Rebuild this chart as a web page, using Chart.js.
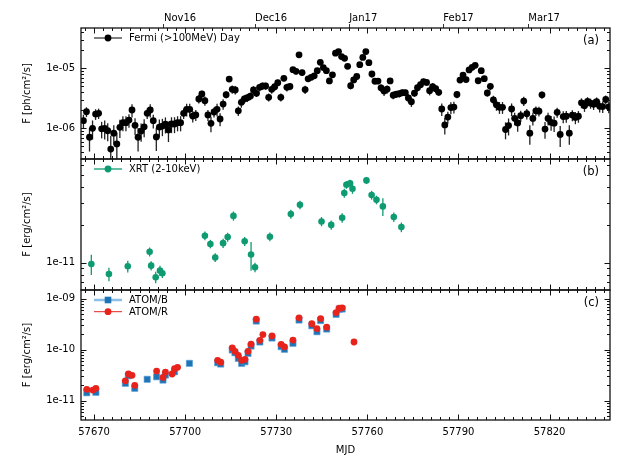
<!DOCTYPE html>
<html>
<head>
<meta charset="utf-8">
<script src="https://cdn.jsdelivr.net/npm/chart.js@4.4.1/dist/chart.umd.min.js"></script>
<style>
  html, body { margin: 0; padding: 0; background: #fff; }
  #wrap { position: relative; width: 623px; height: 467px; }
  #wrap canvas { position: absolute; left: 0; top: 0; }
</style>
</head>
<body>
<div id="wrap">
  <canvas id="fermiCanvas" width="623" height="467"></canvas>
  <canvas id="xrtCanvas" width="623" height="467"></canvas>
  <canvas id="atomCanvas" width="623" height="467"></canvas>
</div>
<script>
// Fermi (>100MeV) daily fluxes, in 1e-6 ph/cm2/s
const fermiMjd = [
  57666.5, 57667.5, 57668.5, 57669.5, 57670.5, 57671.5, 57672.5, 57673.5, 57674.5, 57675.5,
  57676.5, 57677.5, 57678.5, 57679.5, 57680.5, 57681.5, 57682.5, 57683.5, 57684.5, 57685.5,
  57686.5, 57687.5, 57688.5, 57689.5, 57690.5, 57691.5, 57692.5, 57693.5, 57694.5, 57695.5,
  57696.5, 57697.5, 57698.5, 57699.5, 57700.5, 57701.5, 57702.5, 57703.5, 57704.5, 57705.5,
  57706.5, 57707.5, 57708.5, 57709.5, 57710.5, 57711.5, 57712.5, 57713.5, 57714.5, 57715.5,
  57716.5, 57717.5, 57718.5, 57719.5, 57720.5, 57721.5, 57722.5, 57723.5, 57724.5, 57725.5,
  57726.5, 57727.5, 57728.5, 57729.5, 57730.5, 57731.5, 57732.5, 57733.5, 57734.5, 57735.5,
  57736.5, 57737.5, 57738.5, 57739.5, 57740.5, 57741.5, 57742.5, 57743.5, 57744.5, 57745.5,
  57746.5, 57747.5, 57748.5, 57749.5, 57750.5, 57751.5, 57752.5, 57753.5, 57754.5, 57755.5,
  57756.5, 57757.5, 57758.5, 57759.5, 57760.5, 57761.5, 57762.5, 57763.5, 57764.5, 57765.5,
  57766.5, 57767.5, 57768.5, 57769.5, 57770.5, 57771.5, 57772.5, 57773.5, 57774.5, 57775.5,
  57776.5, 57777.5, 57778.5, 57779.5, 57780.5, 57781.5, 57782.5, 57783.5, 57784.5, 57785.5,
  57786.5, 57787.5, 57788.5, 57789.5, 57790.5, 57791.5, 57792.5, 57793.5, 57794.5, 57795.5,
  57796.5, 57797.5, 57798.5, 57799.5, 57800.5, 57801.5, 57802.5, 57803.5, 57804.5, 57805.5,
  57806.5, 57807.5, 57808.5, 57809.5, 57810.5, 57811.5, 57812.5, 57813.5, 57814.5, 57815.5,
  57816.5, 57817.5, 57818.5, 57819.5, 57820.5, 57821.5, 57822.5, 57823.5, 57824.5, 57825.5,
  57826.5, 57827.5, 57828.5, 57829.5, 57830.5, 57831.5, 57832.5, 57833.5, 57834.5, 57835.5,
  57836.5, 57837.5, 57838.5, 57839.5
];
const fermiFlux = [
  1.34, 1.89, 0.71, 1.00, 1.73, 1.78, 0.98, 1.00, 0.91, 0.45,
  0.83, 0.55, 1.04, 1.24, 1.24, 1.37, 2.02, 1.12, 0.71, 0.90,
  1.06, 1.78, 2.02, 1.34, 0.72, 1.05, 1.09, 1.17, 0.94, 1.18,
  1.18, 1.24, 1.24, 1.78, 2.07, 2.07, 1.60, 1.67, 3.08, 3.73,
  2.88, 1.67, 1.21, 1.87, 2.07, 1.43, 2.54, 3.63, 6.63, 4.47,
  4.35, 1.96, 2.71, 3.08, 3.24, 3.45, 4.35, 3.83, 4.82, 5.07,
  5.07, 3.29, 4.47, 4.93, 5.75, 3.29, 6.81, 4.82, 5.00, 9.50,
  8.90, 16.8, 8.50, 4.43, 6.68, 7.08, 7.50, 9.12, 12.6, 10.3,
  9.12, 6.17, 7.79, 17.9, 19.0, 15.7, 14.7, 10.8, 5.13, 6.40,
  7.30, 11.5, 15.2, 19.0, 12.4, 8.04, 6.10, 6.14, 4.73, 4.17,
  4.48, 6.17, 3.56, 3.70, 3.77, 3.92, 3.92, 3.20, 2.77, 3.85,
  4.75, 5.34, 6.00, 5.82, 4.24, 4.97, 4.57, 3.98, 2.10, 1.14,
  1.54, 2.22, 2.26, 3.66, 6.38, 7.73, 6.50, 9.40, 10.4, 11.2,
  6.21, 9.12, 6.71, 3.88, 5.01, 2.99, 2.46, 2.24, 2.24, 0.955,
  1.11, 2.10, 1.47, 1.23, 1.62, 2.85, 1.75, 0.83, 1.46, 1.96,
  1.93, 3.61, 0.97, 1.46, 1.26, 1.22, 1.85, 0.79, 1.57, 1.59,
  0.83, 1.66, 1.52, 1.59, 2.66, 2.38, 2.80, 2.62, 2.52, 2.77,
  2.33, 2.30, 3.02, 2.28
];
const fermiErr = [
  0.35, 0.35, 0.30, 0.35, 0.35, 0.35, 0.30, 0.35, 0.30, 0.30,
  0.30, 0.30, 0.35, 0.35, 0.35, 0.35, 0.50, 0.35, 0.30, 0.30,
  0.35, 0.35, 0.50, 0.35, 0.30, 0.35, 0.35, 0.35, 0.35, 0.35,
  0.35, 0.35, 0.35, 0.35, 0.50, 0.50, 0.35, 0.35, 0.50, 0.50,
  0.50, 0.35, 0.35, 0.35, 0.50, 0.35, 0.50, 0.50, 0.70, 0.70,
  0.70, 0.35, 0.50, 0.50, 0.50, 0.50, 0.70, 0.50, 0.70, 0.70,
  0.70, 0.50, 0.70, 0.70, 0.70, 0.50, 0.70, 0.70, 0.70, 1.00,
  1.00, 1.00, 1.00, 0.70, 0.70, 0.70, 0.70, 1.00, 1.00, 1.00,
  1.00, 0.70, 0.70, 1.00, 1.00, 1.00, 1.00, 1.00, 0.70, 0.70,
  0.70, 1.00, 1.00, 1.00, 1.00, 1.00, 0.70, 0.70, 0.70, 0.70,
  0.70, 0.70, 0.50, 0.50, 0.50, 0.50, 0.50, 0.50, 0.50, 0.50,
  0.70, 0.70, 0.70, 0.70, 0.70, 0.70, 0.70, 0.50, 0.50, 0.35,
  0.35, 0.50, 0.50, 0.50, 0.70, 0.70, 0.70, 1.00, 1.00, 1.00,
  0.70, 1.00, 0.70, 0.50, 0.70, 0.50, 0.50, 0.50, 0.50, 0.30,
  0.35, 0.50, 0.35, 0.35, 0.35, 0.50, 0.35, 0.30, 0.35, 0.35,
  0.35, 0.50, 0.30, 0.35, 0.35, 0.35, 0.35, 0.30, 0.35, 0.35,
  0.30, 0.35, 0.35, 0.35, 0.50, 0.50, 0.50, 0.50, 0.50, 0.50,
  0.50, 0.50, 0.50, 0.50
];

// XRT (2-10keV), in 1e-11 erg/cm2/s
const xrtMjd = [
  57669.1, 57674.9, 57681.1, 57688.3, 57688.8, 57690.3, 57691.7, 57692.5, 57706.5, 57708.3,
  57709.9, 57712.5, 57714.0, 57715.9, 57719.6, 57721.7, 57723.0, 57727.9, 57734.8, 57737.8,
  57744.9, 57748.1, 57751.7, 57752.4, 57753.1, 57754.3, 57755.1, 57759.7, 57761.4, 57763.0,
  57765.1, 57768.7, 57771.2
];
const xrtFlux = [
  0.976, 0.812, 0.936, 1.22, 0.946, 0.764, 0.863, 0.823, 1.64, 1.41,
  1.10, 1.43, 1.60, 2.36, 1.48, 1.16, 0.919, 1.61, 2.44, 2.89,
  2.13, 2.00, 2.28, 3.59, 4.18, 4.29, 3.89, 4.53, 3.46, 3.17,
  2.81, 2.31, 1.92
];
const xrtErr = [
  0.18, 0.10, 0.10, 0.10, 0.08, 0.08, 0.08, 0.07, 0.13, 0.11,
  0.09, 0.12, 0.13, 0.20, 0.12, 0.30, 0.08, 0.13, 0.20, 0.22,
  0.18, 0.17, 0.20, 0.30, 0.30, 0.30, 0.35, 0.30, 0.28, 0.25,
  0.45, 0.20, 0.17
];

// ATOM B and R band, in 1e-10 erg/cm2/s
const atomBMjd = [
  57667.6, 57670.6, 57680.3, 57681.3, 57683.4, 57687.5, 57690.6, 57692.7, 57693.5, 57696.5,
  57701.4, 57710.7, 57711.7, 57715.5, 57716.4, 57717.5, 57718.6, 57719.7, 57720.7, 57721.7,
  57723.4, 57724.6, 57728.6, 57731.6, 57732.7, 57735.5, 57737.5, 57741.7, 57743.4, 57744.6,
  57746.6, 57749.7, 57750.7, 57751.7
];
const atomBFlux = [
  0.143, 0.146, 0.219, 0.309, 0.175, 0.263, 0.295, 0.254, 0.319, 0.370,
  0.541, 0.556, 0.524, 0.99, 0.873, 0.678, 0.54, 0.581, 0.849, 1.18,
  3.66, 1.42, 1.70, 1.15, 1.02, 1.34, 3.83, 2.96, 2.26, 3.74,
  2.55, 4.95, 6.21, 6.30
];
const atomRMjd = [
  57667.6, 57669.6, 57670.6, 57680.3, 57681.3, 57682.5, 57683.4, 57690.6, 57692.7, 57693.5,
  57695.7, 57696.5, 57697.5, 57710.7, 57711.7, 57715.5, 57716.4, 57717.5, 57718.6, 57719.7,
  57720.7, 57721.7, 57723.4, 57724.6, 57725.6, 57728.6, 57731.6, 57732.7, 57735.5, 57737.5,
  57741.7, 57743.4, 57744.6, 57746.6, 57749.7, 57750.7, 57751.7, 57755.6
];
const atomRFlux = [
  0.167, 0.162, 0.175, 0.246, 0.334, 0.315, 0.200, 0.382, 0.287, 0.365,
  0.334, 0.424, 0.452, 0.619, 0.570, 1.09, 0.93, 0.776, 0.619, 0.648,
  0.93, 1.29, 3.98, 1.53, 1.99, 1.87, 1.28, 1.14, 1.55, 4.23,
  3.24, 2.61, 4.10, 2.77, 5.37, 6.53, 6.67, 1.42
];

// axis labels
const xTickValues = [57670, 57700, 57730, 57760, 57790, 57820];
const monthMjd = [57693, 57723, 57754, 57785, 57813];
const monthLabels = ['Nov16', 'Dec16', 'Jan17', 'Feb17', 'Mar17'];

const X_MIN = 57665.7, X_MAX = 57839.9;
const FONT = 'DejaVu Sans';

Chart.defaults.font.family = FONT;
Chart.defaults.font.size = 10;
Chart.defaults.color = '#000';

// 1e-05 style labels (like matplotlib)
function sciLabel(v) {
  const e = Math.round(Math.log10(v));
  return '1e' + (e < 0 ? '-' : '+') + String(Math.abs(e)).padStart(2, '0');
}

// only full decades get a label
function decadeTicks(scale) {
  const ticks = [];
  for (let e = Math.ceil(Math.log10(scale.min) - 1e-9); e <= Math.floor(Math.log10(scale.max) + 1e-9); e++) {
    ticks.push({ value: Math.pow(10, e) });
  }
  scale.ticks = ticks;
}

function toPoints(xs, ys, unit) {
  return xs.map((x, i) => ({ x: x, y: ys[i] * unit }));
}

// vertical error bars, drawn under the markers
const errorBars = {
  id: 'errorBars',
  beforeDatasetsDraw(chart) {
    const { ctx, chartArea: a } = chart;
    ctx.save();
    ctx.beginPath();
    ctx.rect(a.left, a.top, a.right - a.left, a.bottom - a.top);
    ctx.clip();
    chart.data.datasets.forEach((ds, i) => {
      if (!ds.errors) return;
      const meta = chart.getDatasetMeta(i);
      const ys = chart.scales[meta.yAxisID];
      ctx.strokeStyle = ds.errorColor;
      ctx.lineWidth = 1.3;
      meta.data.forEach((pt, j) => {
        const v = ds.data[j].y;
        const e = ds.errors[j] * ds.errorUnit;
        const lo = Math.max(v - e, ys.min * 0.1);
        ctx.beginPath();
        ctx.moveTo(pt.x, ys.getPixelForValue(v + e));
        ctx.lineTo(pt.x, ys.getPixelForValue(lo));
        ctx.stroke();
      });
    });
    ctx.restore();
  }
};

// frame, inward ticks on all four sides, legend and panel letter
const panelDecor = {
  id: 'panelDecor',
  afterDraw(chart, args, opts) {
    const { ctx, chartArea: a } = chart;
    const xs = chart.scales.x, ys = chart.scales.y;
    ctx.save();
    ctx.strokeStyle = '#111';
    ctx.lineWidth = 1;

    // x ticks: major every 30 days, minor every 3
    for (let d = 57670 - 3; d >= X_MIN; d -= 3) drawX(d);
    for (let d = 57670; d <= X_MAX; d += 3) drawX(d);
    function drawX(d) {
      const len = (d - 57670) % 30 === 0 ? 5.5 : 3;
      const px = Math.round(xs.getPixelForValue(d)) + 0.5;
      ctx.beginPath();
      ctx.moveTo(px, a.top); ctx.lineTo(px, a.top + len);
      ctx.moveTo(px, a.bottom); ctx.lineTo(px, a.bottom - len);
      ctx.stroke();
    }

    // y ticks: decades and 2..9 in between
    for (let e = Math.floor(Math.log10(ys.min)); e <= Math.floor(Math.log10(ys.max)); e++) {
      for (let m = 1; m <= 9; m++) {
        const v = m * Math.pow(10, e);
        if (v < ys.min || v > ys.max) continue;
        const len = m === 1 ? 5.5 : 3;
        const py = Math.round(ys.getPixelForValue(v)) + 0.5;
        ctx.beginPath();
        ctx.moveTo(a.left, py); ctx.lineTo(a.left + len, py);
        ctx.moveTo(a.right, py); ctx.lineTo(a.right - len, py);
        ctx.stroke();
      }
    }

    ctx.lineWidth = 1.3;
    ctx.strokeRect(a.left, a.top, a.right - a.left, a.bottom - a.top);

    // legend in the top-left corner
    ctx.font = '10px ' + FONT;
    ctx.textBaseline = 'middle';
    ctx.textAlign = 'left';
    opts.legend.forEach((item, k) => {
      const y = a.top + 10 + k * 11.7;
      ctx.strokeStyle = item.lineColor;
      ctx.lineWidth = item.lineWidth;
      ctx.beginPath();
      ctx.moveTo(a.left + 13, y); ctx.lineTo(a.left + 41, y);
      ctx.stroke();
      ctx.fillStyle = item.color;
      ctx.beginPath();
      if (item.style === 'rect') {
        ctx.rect(a.left + 27 - 3.3, y - 3.3, 6.6, 6.6);
      } else {
        ctx.arc(a.left + 27, y, 3.4, 0, Math.PI * 2);
      }
      ctx.fill();
      ctx.fillStyle = '#000';
      ctx.fillText(item.text, a.left + 48, y + 0.5);
    });

    ctx.font = '11.5px ' + FONT;
    ctx.textAlign = 'right';
    ctx.fillText(opts.label, a.right - 11, a.top + 13.5);
    ctx.restore();
  }
};

function yScale(min, max, title) {
  return {
    type: 'logarithmic',
    position: 'left',
    min: min,
    max: max,
    bounds: 'data',
    afterFit: s => { s.width = 81; },
    afterBuildTicks: decadeTicks,
    ticks: { callback: v => sciLabel(v), padding: 6, autoSkip: false },
    grid: { display: false, drawTicks: false },
    border: { display: false },
    title: { display: true, text: title, font: { size: 10 }, padding: { top: 21.5, bottom: 0 } }
  };
}

function hiddenX() {
  return { type: 'linear', min: X_MIN, max: X_MAX, display: false };
}

function makePanel(canvasId, padTop, padBottom, datasets, scales, decor) {
  return new Chart(document.getElementById(canvasId), {
    type: 'scatter',
    data: { datasets: datasets },
    options: {
      responsive: false,
      animation: false,
      devicePixelRatio: 1,
      layout: { padding: { left: 0, right: 13, top: padTop, bottom: padBottom } },
      plugins: { legend: { display: false }, tooltip: { enabled: false }, panelDecor: decor },
      scales: scales
    },
    plugins: [errorBars, panelDecor]
  });
}

// (a) Fermi
makePanel('fermiCanvas', 0, 308, [{
  data: toPoints(fermiMjd, fermiFlux, 1e-6),
  errors: fermiErr, errorUnit: 1e-6, errorColor: '#222',
  backgroundColor: '#000', borderColor: '#000',
  pointRadius: 3.4, pointBorderWidth: 0
}], {
  x: hiddenX(),
  xTop: {
    type: 'linear', position: 'top', min: X_MIN, max: X_MAX,
    afterFit: s => { s.height = 28; },
    afterBuildTicks: s => { s.ticks = monthMjd.map(v => ({ value: v })); },
    ticks: {
      callback: v => monthLabels[monthMjd.indexOf(v)],
      align: 'start', padding: 0, maxRotation: 0, autoSkip: false
    },
    grid: { display: true, drawOnChartArea: false, drawTicks: true, tickLength: 4, color: '#000', lineWidth: 0.8 },
    border: { display: false }
  },
  y: yScale(3.08e-7, 4.7e-5, 'F [ph/cm²/s]')
}, {
  label: '(a)',
  legend: [{ text: 'Fermi (>100MeV) Day', color: '#000', lineColor: '#000', lineWidth: 1 }]
});

// (b) XRT
makePanel('xrtCanvas', 159, 177, [{
  data: toPoints(xrtMjd, xrtFlux, 1e-11),
  errors: xrtErr, errorUnit: 1e-11, errorColor: '#0f9b72',
  backgroundColor: '#0f9b72', borderColor: '#0f9b72',
  pointRadius: 3.3, pointBorderWidth: 0
}], {
  x: hiddenX(),
  y: yScale(6.05e-12, 6.71e-11, 'F [erg/cm²/s]')
}, {
  label: '(b)',
  legend: [{ text: 'XRT (2-10keV)', color: '#0f9b72', lineColor: '#0f9b72', lineWidth: 1.3 }]
});

// (c) ATOM
makePanel('atomCanvas', 290, 0, [
  {
    data: toPoints(atomBMjd, atomBFlux, 1e-10),
    order: 1,
    pointStyle: 'rect',
    backgroundColor: '#1f74b6', borderColor: 'rgba(90,160,215,0.6)',
    pointRadius: 4.4, pointBorderWidth: 1
  },
  {
    data: toPoints(atomRMjd, atomRFlux, 1e-10),
    order: 0,
    backgroundColor: '#e8231c', borderColor: '#e8231c',
    pointRadius: 3.4, pointBorderWidth: 0
  }
], {
  x: {
    type: 'linear', position: 'bottom', min: X_MIN, max: X_MAX,
    afterFit: s => { s.height = 47; },
    afterBuildTicks: s => { s.ticks = xTickValues.map(v => ({ value: v })); },
    ticks: { callback: v => String(v), padding: 6, maxRotation: 0, autoSkip: false },
    grid: { display: false, drawTicks: false },
    border: { display: false },
    title: { display: true, text: 'MJD', font: { size: 10 }, padding: { top: 0, bottom: 11 } }
  },
  y: yScale(4.18e-12, 1.49e-9, 'F [erg/cm²/s]')
}, {
  label: '(c)',
  legend: [
    { text: 'ATOM/B', color: '#1f74b6', lineColor: 'rgba(110,175,225,0.8)', lineWidth: 2.5, style: 'rect' },
    { text: 'ATOM/R', color: '#e8231c', lineColor: '#e8231c', lineWidth: 1 }
  ]
});
</script>
</body>
</html>
